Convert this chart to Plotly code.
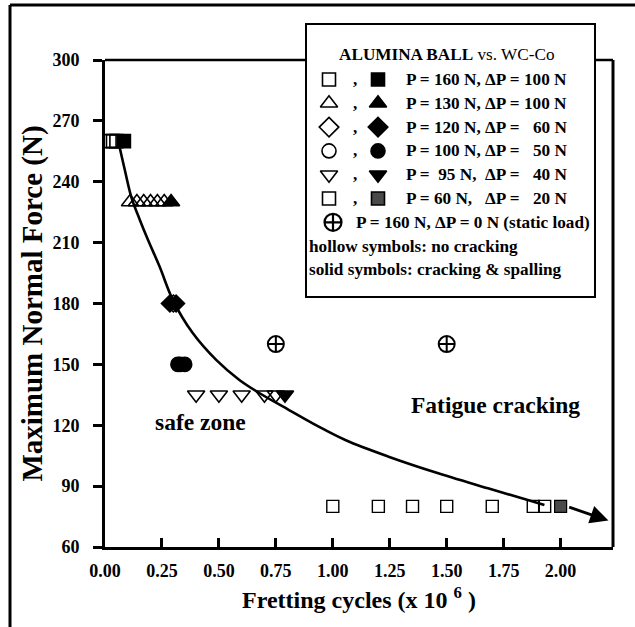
import plotly.graph_objects as go

# ---------------- data ----------------
x_ticks = [0.00, 0.25, 0.50, 0.75, 1.00, 1.25, 1.50, 1.75, 2.00]
y_ticks = [60, 90, 120, 150, 180, 210, 240, 270, 300]

# P = 160 N, dP = 100 N  (squares)
sq160_hollow_x = [0.02, 0.035, 0.05]
sq160_solid_x = [0.083]
sq160_y = 260
# P = 130 N, dP = 100 N  (up triangles)
tri130_hollow_x = [0.11, 0.14, 0.17, 0.20, 0.23, 0.26]
tri130_solid_x = [0.29]
tri130_y = 230
# P = 120 N, dP = 60 N  (diamonds)
dia120_hollow_x = [0.30]
dia120_solid_x = [0.285, 0.312]
dia120_y = 180
# P = 100 N, dP = 50 N  (circles)
cir100_hollow_x = [0.33]
cir100_solid_x = [0.32, 0.35]
cir100_y = 150
# P = 95 N, dP = 40 N  (down triangles)
dtri95_hollow_x = [0.40, 0.50, 0.60, 0.70, 0.75]
dtri95_solid_x = [0.79]
dtri95_y = 135
# P = 60 N, dP = 20 N  (squares)
sq60_hollow_x = [1.00, 1.20, 1.35, 1.50, 1.70, 1.88, 1.93]
sq60_solid_x = [2.00]
sq60_y = 80
# static load P = 160 N
static_x = [0.75, 1.50]
static_y = 160

# boundary curve
curve_x = [0.062, 0.087, 0.117, 0.153, 0.189, 0.240, 0.298, 0.386, 0.488, 0.590,
           0.677, 0.808, 0.930, 1.055, 1.245, 1.463, 1.681, 1.856, 1.929]
curve_y = [258.1, 245.8, 231.9, 221.2, 211.3, 198.1, 181.7, 165.3, 152.2, 142.3,
           135.9, 127.5, 119.8, 112.7, 104.5, 96.3, 88.9, 83.2, 80.7]
arrow_x = [2.031, 2.21]
arrow_y = [79.9, 73.0]

legend_rows = [
    ("square-open", "square", "P = 160 N, ΔP =", "100 N"),
    ("triangle-up-open", "triangle-up", "P = 130 N, ΔP =", "100 N"),
    ("diamond-open", "diamond", "P = 120 N, ΔP =", "60 N"),
    ("circle-open", "circle", "P = 100 N, ΔP =", "50 N"),
    ("triangle-down-open", "triangle-down", "P =\u00a0\u00a095 N,\u00a0\u00a0ΔP =", "40 N"),
    ("square-open", "square", "P = 60 N,\u00a0\u00a0\u00a0ΔP =", "20 N"),
]

FONT = "Liberation Serif, Times New Roman, serif"
W, H = 635, 627
L, R, T, B = 105, 22, 60, 80
PW, PH = W - L - R, H - T - B


def px(xp):
    return (xp - L) / PW


def py(yp):
    return (H - B - yp) / PH


fig = go.Figure()


def add_pts(xs, y, symbol, size, color="black", fill=None, lw=1.6):
    fig.add_trace(go.Scatter(
        x=xs, y=[y] * len(xs), mode="markers", cliponaxis=False, showlegend=False,
        marker=dict(symbol=symbol, size=size, color=fill if fill else color,
                    line=dict(color="black", width=lw))))


# curve
fig.add_trace(go.Scatter(x=curve_x, y=curve_y, mode="lines", line=dict(color="black", width=2.6, shape="spline"),
                         showlegend=False, hoverinfo="skip"))

add_pts(sq160_hollow_x, sq160_y, "square-open", 13)
add_pts(sq160_solid_x, sq160_y, "square", 13)
add_pts(tri130_hollow_x, tri130_y, "triangle-up-open", 15)
add_pts(tri130_solid_x, tri130_y, "triangle-up", 15)
add_pts(dia120_hollow_x, dia120_y, "diamond-open", 13)
add_pts(dia120_solid_x, dia120_y, "diamond", 13)
add_pts(cir100_hollow_x, cir100_y, "circle-open", 14)
add_pts(cir100_solid_x, cir100_y, "circle", 14)
add_pts(dtri95_hollow_x, dtri95_y, "triangle-down-open", 15)
add_pts(dtri95_solid_x, dtri95_y, "triangle-down", 15)
add_pts(sq60_hollow_x, sq60_y, "square-open", 12, lw=1.4)
add_pts(sq60_solid_x, sq60_y, "square", 12, fill="#4a4a4a", lw=1.2)
add_pts(static_x, static_y, "circle-cross-open", 16, lw=2)

# ---------------- custom legend (pixel overlay axes) ----------------
row_y0, row_dy = 79.5, 23.8
leg_col1, leg_comma, leg_col2, leg_text, leg_val_r = 329, 355, 378, 404, 569
ann = []
for i, (s_open, s_fill, txt, val) in enumerate(legend_rows):
    yy = row_y0 + i * row_dy
    size = {"square-open": 13, "triangle-up-open": 15, "diamond-open": 15,
            "circle-open": 14, "triangle-down-open": 15}[s_open]
    fill = "#4a4a4a" if i == 5 else "black"
    fig.add_trace(go.Scatter(x=[leg_col1, leg_col2], y=[yy, yy], xaxis="x2", yaxis="y2", mode="markers",
                             cliponaxis=False, showlegend=False, hoverinfo="skip",
                             marker=dict(symbol=[s_open, s_fill], size=size, color=["black", fill],
                                         line=dict(color="black", width=1.6))))
    ann.append(dict(x=px(leg_comma), y=py(yy), text="<b>,</b>", xanchor="center"))
    ann.append(dict(x=px(leg_text), y=py(yy), text="<b>" + txt + "</b>", xanchor="left"))
    ann.append(dict(x=px(leg_val_r), y=py(yy), text="<b>" + val + "</b>", xanchor="right"))

yy = row_y0 + 6 * row_dy
fig.add_trace(go.Scatter(x=[333], y=[yy], xaxis="x2", yaxis="y2", mode="markers", cliponaxis=False,
                         showlegend=False, hoverinfo="skip",
                         marker=dict(symbol="circle-cross-open", size=17, color="black", line=dict(width=2.2))))
ann.append(dict(x=px(354), y=py(yy), text="<b>P = 160 N, ΔP = 0 N (static load)</b>", xanchor="left"))
ann.append(dict(x=px(307), y=py(row_y0 + 7 * row_dy), text="<b>hollow symbols: no cracking</b>", xanchor="left"))
ann.append(dict(x=px(307), y=py(row_y0 + 8 * row_dy), text="<b>solid symbols: cracking &amp; spalling</b>",
                xanchor="left"))
ann.append(dict(x=px(447), y=py(55), text="<b>ALUMINA BALL</b> vs. WC-Co", xanchor="center"))

for a in ann:
    a.update(xref="paper", yref="paper", showarrow=False, yanchor="middle",
             font=dict(family=FONT, size=17.2, color="black"))

# zone labels
ann.append(dict(x=1.716, y=130, xref="x", yref="y", text="<b>Fatigue cracking</b>", showarrow=False,
                font=dict(family=FONT, size=23.5, color="black")))
ann.append(dict(x=0.42, y=121.6, xref="x", yref="y", text="<b>safe zone</b>", showarrow=False,
                font=dict(family=FONT, size=23.5, color="black")))
# arrow at end of the curve
ann.append(dict(x=arrow_x[1], y=arrow_y[1], ax=arrow_x[0], ay=arrow_y[0], xref="x", yref="y",
                axref="x", ayref="y", text="", showarrow=True, arrowhead=2, arrowsize=1.3,
                arrowwidth=2.8, arrowcolor="black"))

# ---------------- frame shapes ----------------
leg_l, leg_r, leg_t, leg_b = 306, 595, 24, 297
shapes = [
    dict(type="rect", xref="paper", yref="paper", x0=px(leg_l), x1=px(leg_r), y0=py(leg_b), y1=py(leg_t),
         line=dict(color="black", width=2), fillcolor="white", layer="below"),
    dict(type="line", xref="paper", yref="paper", x0=0, x1=px(leg_l), y0=1, y1=1,
         line=dict(color="black", width=2.5)),
    dict(type="line", xref="paper", yref="paper", x0=px(leg_r), x1=1, y0=1, y1=1,
         line=dict(color="black", width=2.5)),
    dict(type="line", xref="paper", yref="paper", x0=1, x1=1, y0=0, y1=1,
         line=dict(color="black", width=3)),
    # outer picture frame
    dict(type="line", xref="paper", yref="paper", x0=px(10), x1=px(660), y0=py(5), y1=py(5),
         line=dict(color="black", width=3)),
    dict(type="line", xref="paper", yref="paper", x0=px(10), x1=px(10), y0=py(5), y1=py(660),
         line=dict(color="black", width=3)),
]

fig.update_layout(
    width=W, height=H, margin=dict(l=L, r=R, t=T, b=B, autoexpand=False),
    paper_bgcolor="white", plot_bgcolor="white",
    font=dict(family=FONT, color="black"),
    showlegend=False, annotations=ann, shapes=shapes,
    xaxis=dict(range=[0, 2.23], tickvals=x_ticks, ticktext=[f"{v:.2f}" for v in x_ticks],
               ticks="inside", ticklen=9, tickwidth=2.5, tickcolor="black", ticklabelstandoff=5,
               showline=True, linewidth=3, linecolor="black", showgrid=False, zeroline=False,
               tickfont=dict(family=FONT, size=18, weight="bold"),
               title=dict(text="Fretting cycles (x 10 <sup>6</sup> )", standoff=12,
                          font=dict(family=FONT, size=24, weight="bold"))),
    yaxis=dict(range=[60, 300], tickvals=y_ticks, ticks="outside", ticklen=9, tickwidth=2.5,
               tickcolor="black", ticklabelstandoff=10, showline=True, linewidth=3, linecolor="black",
               showgrid=False, zeroline=False, tickfont=dict(family=FONT, size=18, weight="bold"),
               title=dict(text="Maximum Normal Force (N)", standoff=2,
                          font=dict(family=FONT, size=29, weight="bold"))),
    xaxis2=dict(range=[L, W - R], overlaying="x", anchor="y2", visible=False),
    yaxis2=dict(range=[H - B, T], overlaying="y", anchor="x2", visible=False),
)

fig.write_html("out.html")
